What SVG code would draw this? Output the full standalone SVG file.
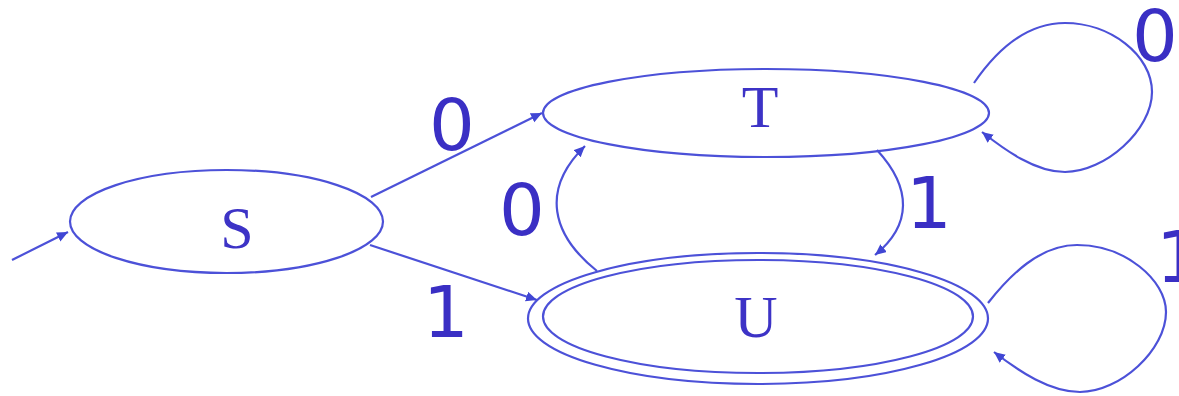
<svg xmlns="http://www.w3.org/2000/svg" width="1179" height="396" viewBox="0 0 1179 396">
  <style>
    .state { fill: none; stroke: #4c51d8; stroke-width: 2.2; }
    .edge { fill: none; stroke: #4c51d8; stroke-width: 2.2; }
    .name { font-family: "Liberation Serif", "DejaVu Serif", serif; font-size: 60px; fill: #3d33c6; text-anchor: middle; }
    .sym { font-family: "DejaVu Sans", "Liberation Sans", sans-serif; font-size: 72px; fill: #3a2fc4; text-anchor: middle; }
  </style>
  <defs>
    <marker id="arrow" markerUnits="userSpaceOnUse" markerWidth="14" markerHeight="12" refX="11" refY="5" orient="auto">
      <path d="M0,0 L11,5 L0,10 Z" fill="#4046d4"/>
    </marker>
  </defs>
  <rect width="1179" height="396" fill="#ffffff"/>

  <g id="edges">
    <!-- start arrow -->
    <path class="edge" d="M12,260 L68,232" marker-end="url(#arrow)"/>
    <!-- S to T on 0 -->
    <path class="edge" d="M371,197 L542,113" marker-end="url(#arrow)"/>
    <!-- S to U on 1 -->
    <path class="edge" d="M370,245 L537,300" marker-end="url(#arrow)"/>
    <!-- U to T on 0 -->
    <path class="edge" d="M597,271 C552,235 540,190 585,146" marker-end="url(#arrow)"/>
    <!-- T to U on 1 -->
    <path class="edge" d="M877,150 C912,188 912,225 875,255" marker-end="url(#arrow)"/>
    <!-- T loop on 0 -->
    <path class="edge" d="M974,83 C1000,45 1030,23 1065,23 C1110,23 1152,55 1152,92 C1152,130 1105,172 1065,172 C1035,172 1005,150 982,132" marker-end="url(#arrow)"/>
    <!-- U loop on 1 -->
    <path class="edge" d="M988,303 C1010,275 1040,245 1077,245 C1125,245 1166,280 1166,312 C1166,350 1120,392 1080,392 C1050,392 1020,372 994,352" marker-end="url(#arrow)"/>
  </g>

  <g id="edge-labels">
    <text class="sym" x="452" y="150">0</text>
    <text class="sym" x="446" y="337">1</text>
    <text class="sym" x="522" y="235">0</text>
    <text class="sym" x="929" y="228">1</text>
    <text class="sym" x="1155" y="61">0</text>
    <text class="sym" x="1179" y="282">1</text>
  </g>

  <g id="node-S">
    <ellipse class="state" cx="226.5" cy="221.5" rx="156.5" ry="51.5"/>
    <text class="name" x="237" y="248">S</text>
  </g>

  <g id="node-T">
    <ellipse class="state" cx="766" cy="113" rx="223" ry="44"/>
    <text class="name" x="760" y="127">T</text>
  </g>

  <g id="node-U">
    <ellipse class="state" cx="758" cy="318.5" rx="230" ry="65.5"/>
    <ellipse class="state" cx="758" cy="316.5" rx="215" ry="56.5"/>
    <text class="name" x="756" y="337">U</text>
  </g>
</svg>
